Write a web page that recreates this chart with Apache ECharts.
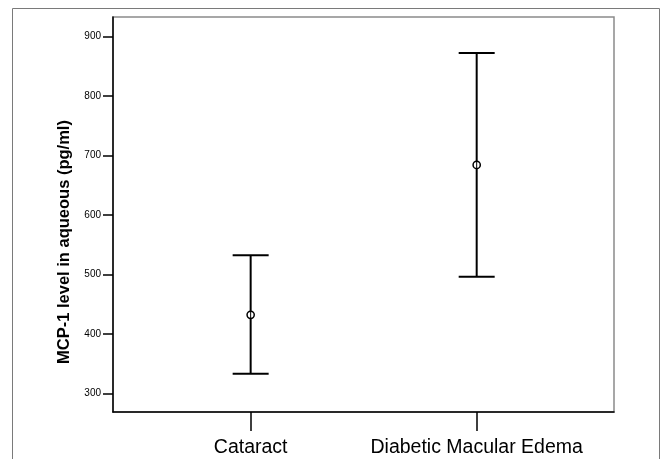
<!DOCTYPE html>
<html>
<head>
<meta charset="utf-8">
<script src="https://cdn.jsdelivr.net/npm/echarts@6/dist/echarts.min.js"></script>
<style>
html,body{margin:0;padding:0;background:#fff;}
#c{width:661px;height:459px;}
</style>
</head>
<body>
<div id="c"></div>
<script>
const categories = ['Cataract', 'Diabetic Macular Edema'];
const catPositions = [1, 2];
const means = [432, 684];
const lower = [333, 496];
const upper = [532, 872];
const yTicks = [300, 400, 500, 600, 700, 800, 900];
const yTitle = 'MCP-1 level in aqueous (pg/ml)';

const chart = echarts.init(document.getElementById('c'), null, {renderer: 'canvas'});

const data = categories.map((c, i) => [catPositions[i], means[i], lower[i], upper[i]]);

const option = {
  animation: false,
  backgroundColor: '#fff',
  grid: {
    left: 113, top: 17, right: 47, bottom: 47,
    show: true, borderColor: '#8a8a8a', borderWidth: 1.5, backgroundColor: '#fff'
  },
  xAxis: {
    type: 'value',
    min: 0.391, max: 2.6075,
    splitLine: {show: false},
    axisLine: {show: true, onZero: false, lineStyle: {color: '#000', width: 1.5}},
    axisTick: {show: true, customValues: catPositions, length: 19, lineStyle: {color: '#000', width: 1.5}},
    axisLabel: {
      customValues: catPositions,
      formatter: v => categories[catPositions.indexOf(v)] || '',
      color: '#000', fontFamily: 'Liberation Sans, Arial, sans-serif', fontSize: 19.5, margin: 26
    }
  },
  yAxis: {
    type: 'value',
    min: 268.6, max: 932.7,
    splitLine: {show: false},
    axisLine: {show: true, lineStyle: {color: '#000', width: 1.5}},
    axisTick: {show: true, customValues: yTicks, length: 10, lineStyle: {color: '#000', width: 1.5}},
    axisLabel: {
      customValues: yTicks,
      color: '#000', fontFamily: 'Liberation Sans, Arial, sans-serif', fontSize: 10, margin: 12
    }
  },
  graphic: [
    {
      type: 'rect', z: 100, silent: true,
      shape: {x: 12.5, y: 8.5, width: 647, height: 470},
      style: {fill: 'none', stroke: '#7a7a7a', lineWidth: 1}
    },
    {
      type: 'text', z: 100, silent: true,
      x: 64, y: 242, rotation: Math.PI / 2,
      style: {
        text: yTitle, fill: '#000',
        font: 'bold 16.5px "Liberation Sans", Arial, sans-serif',
        align: 'center', verticalAlign: 'middle'
      }
    }
  ],
  series: [{
    type: 'custom',
    data: data,
    encode: {x: 0, y: [1, 2, 3]},
    renderItem: function (params, api) {
      const x = api.value(0);
      const pm = api.coord([x, api.value(1)]);
      const pl = api.coord([x, api.value(2)]);
      const pu = api.coord([x, api.value(3)]);
      const hw = 18;
      const r = 3.6;
      const ls = {stroke: '#000', lineWidth: 2, fill: 'none'};
      return {
        type: 'group',
        children: [
          {type: 'line', shape: {x1: pu[0], y1: pu[1], x2: pm[0], y2: pm[1] - r}, style: ls},
          {type: 'line', shape: {x1: pm[0], y1: pm[1] + r, x2: pl[0], y2: pl[1]}, style: ls},
          {type: 'line', shape: {x1: pu[0] - hw, y1: pu[1], x2: pu[0] + hw, y2: pu[1]}, style: ls},
          {type: 'line', shape: {x1: pl[0] - hw, y1: pl[1], x2: pl[0] + hw, y2: pl[1]}, style: ls},
          {type: 'circle', shape: {cx: pm[0], cy: pm[1], r: r}, style: {stroke: '#000', lineWidth: 1.5, fill: '#fff'}},
          {type: 'line', shape: {x1: pm[0], y1: pm[1] - r, x2: pm[0], y2: pm[1] + r}, style: {stroke: '#000', lineWidth: 1}}
        ]
      };
    }
  }]
};
chart.setOption(option);
</script>
</body>
</html>
